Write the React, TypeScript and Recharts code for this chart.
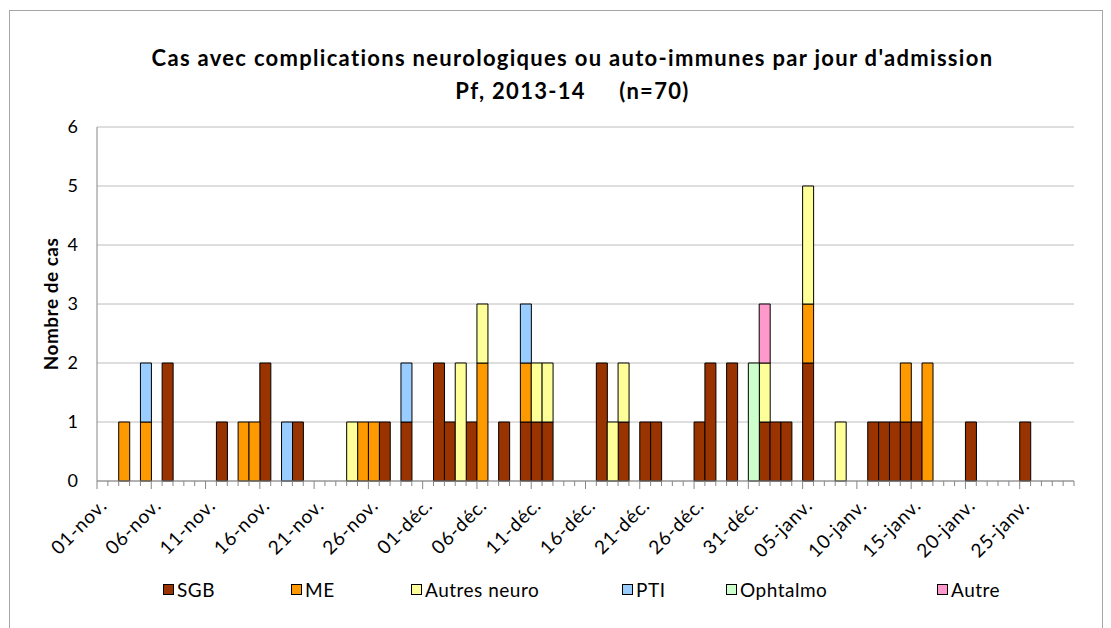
import { Bar, BarChart, CartesianGrid, XAxis, YAxis } from 'recharts'

// categories: one per admission day, 01-nov. to 29-janv.
const MONTHS: [string, number][] = [
  ['nov.', 30],
  ['déc.', 31],
  ['janv.', 29],
]
const DAYS: string[] = MONTHS.flatMap(([m, n]) =>
  Array.from({ length: n }, (_, i) => `${String(i + 1).padStart(2, '0')}-${m}`),
)

// cases per day, per complication type
const SGB: [string, number][] = [
  ['07-nov.', 2], ['12-nov.', 1], ['16-nov.', 2], ['19-nov.', 1], ['27-nov.', 1],
  ['29-nov.', 1], ['02-déc.', 2], ['03-déc.', 1], ['05-déc.', 1], ['08-déc.', 1],
  ['10-déc.', 1], ['11-déc.', 1], ['12-déc.', 1], ['17-déc.', 2], ['19-déc.', 1],
  ['21-déc.', 1], ['22-déc.', 1], ['26-déc.', 1], ['27-déc.', 2], ['29-déc.', 2],
  ['01-janv.', 1], ['02-janv.', 1], ['03-janv.', 1], ['05-janv.', 2], ['11-janv.', 1],
  ['12-janv.', 1], ['13-janv.', 1], ['14-janv.', 1], ['15-janv.', 1], ['20-janv.', 1],
  ['25-janv.', 1],
]
const ME: [string, number][] = [
  ['03-nov.', 1], ['05-nov.', 1], ['14-nov.', 1], ['15-nov.', 1], ['25-nov.', 1],
  ['26-nov.', 1], ['06-déc.', 2], ['10-déc.', 1], ['05-janv.', 1], ['14-janv.', 1],
  ['16-janv.', 2],
]
const AUTRES_NEURO: [string, number][] = [
  ['24-nov.', 1], ['04-déc.', 2], ['06-déc.', 1], ['11-déc.', 1], ['12-déc.', 1],
  ['18-déc.', 1], ['19-déc.', 1], ['01-janv.', 1], ['05-janv.', 2], ['08-janv.', 1],
]
const PTI: [string, number][] = [
  ['05-nov.', 1], ['18-nov.', 1], ['29-nov.', 1], ['10-déc.', 1],
]
const OPHTALMO: [string, number][] = [['31-déc.', 2]]
const AUTRE: [string, number][] = [['01-janv.', 1]]

const Y_TICKS = [0, 1, 2, 3, 4, 5, 6]

const SERIES = [
  { key: 'SGB', name: 'SGB', color: '#993300', values: SGB },
  { key: 'ME', name: 'ME', color: '#FF9900', values: ME },
  { key: 'autresNeuro', name: 'Autres neuro', color: '#FFFF99', values: AUTRES_NEURO },
  { key: 'PTI', name: 'PTI', color: '#99CCFF', values: PTI },
  { key: 'ophtalmo', name: 'Ophtalmo', color: '#CCFFCC', values: OPHTALMO },
  { key: 'autre', name: 'Autre', color: '#FF99CC', values: AUTRE },
]

const chartData = DAYS.map((day) => {
  const row: Record<string, string | number> = { day }
  SERIES.forEach((s) => {
    const hit = s.values.find(([d]) => d === day)
    row[s.key] = hit ? hit[1] : 0
  })
  return row
})

const WIDTH = 1111
const HEIGHT = 628
const MARGIN = { top: 127, right: 37, left: 6, bottom: 0 }
const Y_AXIS_W = 91
const X_AXIS_H = 147
const PLOT_W = WIDTH - MARGIN.left - MARGIN.right - Y_AXIS_W
const FONT = 'Lato, "Open Sans", sans-serif'
const AXIS_GREY = '#868686'

// legend entry left edges, as laid out in the original
const LEGEND_X = [163, 291, 411, 622, 726, 937]

function DayTick(props: any) {
  const { x, y, payload, index } = props
  const w = PLOT_W / DAYS.length
  const left = x - w / 2
  const major = index % 5 === 0
  const tx = x + 1
  const ty = y + 21
  return (
    <g>
      <line x1={left} x2={left} y1={y} y2={y + (major ? 8 : 5)} stroke={AXIS_GREY} />
      {index === DAYS.length - 1 && (
        <line x1={x + w / 2} x2={x + w / 2} y1={y} y2={y + 5} stroke={AXIS_GREY} />
      )}
      {major && (
        <text
          x={tx}
          y={ty}
          dy="0.35em"
          textAnchor="end"
          transform={`rotate(-45, ${tx}, ${ty})`}
          fontSize={19}
          letterSpacing={0.8}
          fontFamily={FONT}
          fill="#000"
        >
          {payload.value}
        </text>
      )}
    </g>
  )
}

export default function App() {
  return (
    <div
      style={{
        position: 'fixed',
        left: 0,
        top: 0,
        width: WIDTH,
        height: HEIGHT,
        background: '#fff',
        overflow: 'hidden',
        fontFamily: FONT,
      }}
    >
      <div
        style={{
          position: 'absolute',
          left: 9,
          top: 10,
          width: 1092,
          height: 700,
          border: '1px solid #a6a6a6',
        }}
      />
      <div
        style={{
          position: 'absolute',
          left: 0,
          top: 41,
          width: 1145,
          textAlign: 'center',
          fontWeight: 700,
          fontSize: 22,
          letterSpacing: 1.3,
          lineHeight: '33px',
          whiteSpace: 'pre',
          color: '#000',
        }}
      >
        {"Cas avec complications neurologiques ou auto-immunes par jour d'admission\nPf, 2013-14     (n=70)"}
      </div>

      <BarChart
        width={WIDTH}
        height={HEIGHT}
        data={chartData}
        margin={MARGIN}
        barCategoryGap={0}
        style={{ position: 'absolute', left: 0, top: 0 }}
      >
        <CartesianGrid vertical={false} stroke="#bcbcbc" />
        <XAxis
          dataKey="day"
          interval={0}
          height={X_AXIS_H}
          tickLine={false}
          tickSize={0}
          tickMargin={0}
          axisLine={{ stroke: AXIS_GREY }}
          tick={<DayTick />}
        />
        <YAxis
          width={Y_AXIS_W}
          domain={[0, 6]}
          ticks={Y_TICKS}
          interval={0}
          tickLine={false}
          tickSize={0}
          tickMargin={19}
          axisLine={{ stroke: AXIS_GREY }}
          tick={{ fontSize: 18, fill: '#000', fontFamily: FONT }}
          label={{
            value: 'Nombre de cas',
            angle: -90,
            position: 'center',
            style: { fontSize: 19, fontWeight: 700, letterSpacing: 0.5, fill: '#000', fontFamily: FONT },
          }}
        />
        {SERIES.map((s) => (
          <Bar
            key={s.key}
            dataKey={s.key}
            name={s.name}
            stackId="cases"
            fill={s.color}
            stroke="#000"
            strokeWidth={1}
            isAnimationActive={false}
          />
        ))}
      </BarChart>

      {SERIES.map((s, i) => (
        <div
          key={s.key}
          style={{
            position: 'absolute',
            left: LEGEND_X[i],
            top: 578,
            display: 'flex',
            alignItems: 'center',
            fontSize: 19,
            letterSpacing: 0.5,
            color: '#000',
          }}
        >
          <span
            style={{
              width: 9,
              height: 9,
              background: s.color,
              border: '1.5px solid #000',
              marginRight: 3,
            }}
          />
          {s.name}
        </div>
      ))}
    </div>
  )
}
